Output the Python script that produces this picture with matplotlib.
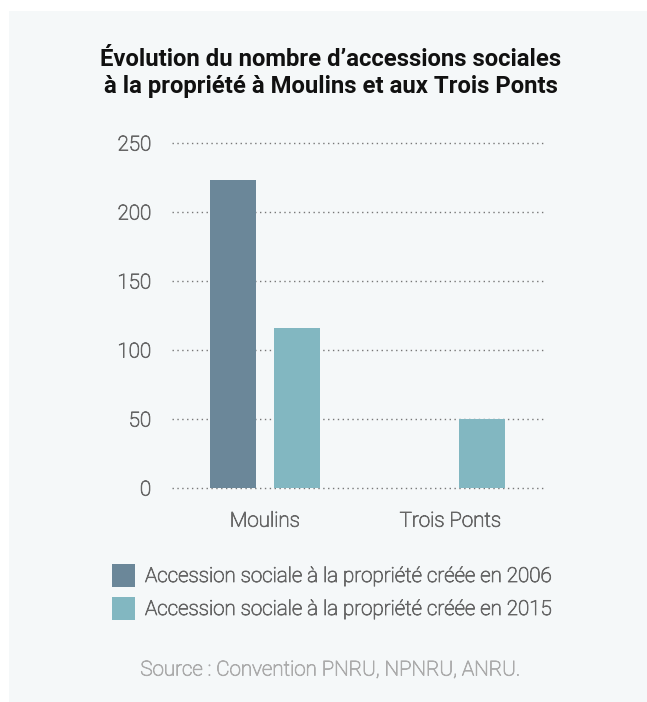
import matplotlib.pyplot as plt
import matplotlib.patheffects as pe
import numpy as np
from matplotlib.patches import Rectangle

# data
categories = ["Moulins", "Trois Ponts"]
series_names = ["Accession sociale à la propriété créée en 2006",
                "Accession sociale à la propriété créée en 2015"]
values_2006 = [223, 0]
values_2015 = [116, 50]
yticks = [0, 50, 100, 150, 200, 250]

colors = ["#6b8799", "#82b7c1"]
bg = "#f5f8f9"
txt = "#666666"
thick = [pe.withStroke(linewidth=0.6, foreground=txt)]

plt.rcParams['font.family'] = ['Roboto', 'DejaVu Sans']

fig = plt.figure(figsize=(6.47, 7.02), dpi=100)
fig.patch.set_facecolor("white")
# light panel behind everything
fig.patches.append(Rectangle((9/647, 0), 1, 1 - 11/702, transform=fig.transFigure,
                             facecolor=bg, edgecolor="none", zorder=-10))

ax = fig.add_axes([172/647, 1 - 488/702, (543 - 172)/647, (488 - 143)/702])
ax.set_facecolor(bg)

x = np.arange(len(categories))
w = 0.247
off = 0.172
ax.bar(x - off, values_2006, w, color=colors[0], zorder=3)
ax.bar(x + off, values_2015, w, color=colors[1], zorder=3)

ax.set_xlim(-0.5, 1.5)
ax.set_ylim(0, 250)
ax.set_yticks(yticks)
ax.set_yticklabels([str(t) for t in yticks])
ax.set_xticks(x)
ax.set_xticklabels(categories)
ax.tick_params(axis='both', length=0, labelsize=14.8, labelcolor=txt)
ax.tick_params(axis='y', pad=15)
ax.tick_params(axis='x', pad=17)
for lab in ax.get_xticklabels() + ax.get_yticklabels():
    lab.set_fontweight('light')
    lab.set_path_effects(thick)
ax.yaxis.grid(True, linestyle=(0, (1, 2.5)), color="#777777", linewidth=1, zorder=0)
for gl in ax.get_ygridlines():
    gl.set_clip_on(False)
ax.set_axisbelow(True)
for s in ax.spines.values():
    s.set_visible(False)

fig.text(331/647, 1 - 73/702, "Évolution du nombre d’accessions sociales\nà la propriété à Moulins et aux Trois Ponts",
         ha="center", va="center", fontsize=17.2, fontweight="bold", color="#111111",
         linespacing=1.22)

# legend
for i, name in enumerate(series_names):
    y = 575.5 + i * 33
    fig.patches.append(Rectangle((112/647, 1 - (y + 11.5)/702), 23/647, 23/702,
                                 transform=fig.transFigure, facecolor=colors[i],
                                 edgecolor="none"))
    fig.text(145/647, 1 - (y + 1)/702, name, ha="left", va="center", fontsize=14.8,
             fontweight="light", color=txt, path_effects=thick)

fig.text(330/647, 1 - 670/702, "Source : Convention PNRU, NPNRU, ANRU.", ha="center",
         va="center", fontsize=14.8, fontweight="light", color="#ababab",
         path_effects=[pe.withStroke(linewidth=0.6, foreground="#ababab")])

fig.savefig("out.png", dpi=100, facecolor=fig.get_facecolor())
